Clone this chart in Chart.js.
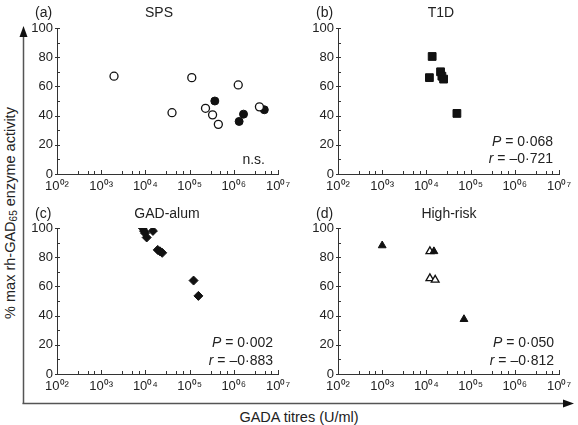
<!DOCTYPE html>
<html>
<head>
<meta charset="utf-8">
<script src="https://cdn.jsdelivr.net/npm/chart.js@4.4.0/dist/chart.umd.min.js"></script>
<style>
  body { margin: 0; background: #fff; width: 578px; height: 425px; position: relative; overflow: hidden;
         font-family: "Liberation Sans", Arial, sans-serif; color: #222; }
  .panel { position: absolute; width: 280px; height: 195px; }
  #ytitle { position: absolute; left: 10px; top: 213px; transform: translate(-50%, -50%) rotate(-90deg);
            white-space: nowrap; font-size: 14.5px; }
  #ytitle sub { font-size: 10px; vertical-align: -2px; }
  #xtitle { position: absolute; left: 299px; top: 417px; transform: translate(-50%, -50%);
            white-space: nowrap; font-size: 14.5px; }
  svg { position: absolute; left: 0; top: 0; }
</style>
</head>
<body>
<svg width="578" height="425">
  <line x1="23.5" y1="404" x2="23.5" y2="34" stroke="#555" stroke-width="1.5"/>
  <polygon points="23.5,26 19.5,37 27.5,37" fill="#111"/>
  <line x1="22.5" y1="403.5" x2="566" y2="403.5" stroke="#555" stroke-width="1.5"/>
  <polygon points="574,403.5 563,399.5 563,407.5" fill="#111"/>
</svg>
<div id="ytitle">% max rh-GAD<sub>65</sub> enzyme activity</div>
<div id="xtitle">GADA titres (U/ml)</div>
<canvas class="panel" id="pa" width="280" height="195" style="left:24px;top:0px"></canvas>
<canvas class="panel" id="pb" width="280" height="195" style="left:305px;top:0px"></canvas>
<canvas class="panel" id="pc" width="280" height="195" style="left:24px;top:200px"></canvas>
<canvas class="panel" id="pd" width="280" height="195" style="left:305px;top:200px"></canvas>
<script>
// axis ticks shared by all four panels
const xTicks = [1e2, 1e3, 1e4, 1e5, 1e6, 1e7];
const xTickLabels = ['10⁰²', '10⁰³', '10⁰⁴', '10⁰⁵', '10⁰⁶', '10⁰⁷'];
const yTicks = [0, 20, 40, 60, 80, 100];
const minorSteps = [3, 5, 7];

// (a) SPS
const spsOpenX = [1950, 40000, 112000, 229000, 331000, 447000, 1260000, 3800000];
const spsOpenY = [67, 42, 66, 45, 40.5, 34, 61, 46];
const spsFilledX = [372000, 1320000, 1660000, 4900000];
const spsFilledY = [50, 36, 41, 44];

// (b) T1D
const t1dX = [13500, 11700, 20900, 22400, 24500, 49000];
const t1dY = [80.5, 66, 70, 67, 65, 41.5];

// (c) GAD-alum
const alumX = [8700, 9300, 9800, 10700, 14800, 19000, 21400, 24000, 123000, 158000];
const alumY = [100, 98, 96.5, 93.5, 98, 85, 84, 83, 64, 53.5];

// (d) High-risk
const riskFilledX = [1000, 14800, 70800];
const riskFilledY = [88, 84, 37.5];
const riskOpenX = [12000, 12000, 15800];
const riskOpenY = [84, 65.5, 64.5];

const FONT = '"Liberation Sans", Arial, sans-serif';

function pts(xs, ys) {
  return xs.map((x, i) => ({ x, y: ys[i] }));
}

// inward tick marks, panel letter, title and stats text
const decorPlugin = {
  id: 'decor',
  afterDraw(chart, args, opts) {
    const { ctx, chartArea: ca, scales: { x, y } } = chart;
    ctx.save();
    ctx.strokeStyle = '#333';
    ctx.lineWidth = 1;
    ctx.beginPath();
    xTicks.forEach((t, i) => {
      const px = Math.round(x.getPixelForValue(t)) + 0.5;
      ctx.moveTo(px, ca.bottom); ctx.lineTo(px, ca.bottom - 4);
      if (i < xTicks.length - 1) {
        minorSteps.forEach(m => {
          const mx = Math.round(x.getPixelForValue(t * m)) + 0.5;
          ctx.moveTo(mx, ca.bottom); ctx.lineTo(mx, ca.bottom - 3);
        });
      }
    });
    for (let v = 0; v <= 100; v += 10) {
      const py = Math.round(y.getPixelForValue(v)) + 0.5;
      ctx.moveTo(ca.left, py); ctx.lineTo(ca.left + 3, py);
      if (v % 20 === 0) { ctx.moveTo(ca.left - 2, py); ctx.lineTo(ca.left, py); }
    }
    ctx.stroke();

    ctx.fillStyle = '#222';
    ctx.textBaseline = 'middle';
    ctx.font = '14px ' + FONT;
    ctx.textAlign = 'left';
    ctx.fillText(opts.label, 11, opts.titleY);
    ctx.textAlign = 'center';
    ctx.fillText(opts.title, opts.titleX, opts.titleY);

    // stats, right aligned, first letter italic
    (opts.notes || []).forEach(n => {
      ctx.font = '14px ' + FONT;
      const restW = ctx.measureText(n.rest).width;
      ctx.font = 'italic 14px ' + FONT;
      const leadW = n.lead ? ctx.measureText(n.lead).width : 0;
      const x0 = opts.noteRight - restW - leadW;
      ctx.textAlign = 'left';
      if (n.lead) ctx.fillText(n.lead, x0, n.y);
      ctx.font = '14px ' + FONT;
      ctx.fillText(n.rest, x0 + leadW, n.y);
    });
    ctx.restore();
  }
};

function makePanel(id, datasets, decor) {
  return new Chart(document.getElementById(id), {
    type: 'scatter',
    data: { datasets },
    options: {
      responsive: false,
      animation: false,
      layout: { padding: { top: 28, right: 26, left: 0, bottom: 0 } },
      plugins: { legend: { display: false }, tooltip: { enabled: false }, decor },
      scales: {
        x: {
          type: 'logarithmic', min: 1e2, max: 1e7,
          afterBuildTicks: s => { s.ticks = xTicks.map(v => ({ value: v })); },
          afterFit: s => { s.height = 21; s.paddingLeft = 0; s.paddingRight = 0; },
          ticks: {
            callback: (v, i) => xTickLabels[i],
            autoSkip: false, maxRotation: 0, padding: 5,
            color: '#222', font: { family: FONT, size: 13 }
          },
          grid: { display: false, drawTicks: false },
          border: { display: true, color: '#333', width: 1 }
        },
        y: {
          min: 0, max: 100,
          afterBuildTicks: s => { s.ticks = yTicks.map(v => ({ value: v })); },
          afterFit: s => { s.width = 33; s.paddingTop = 0; s.paddingBottom = 0; },
          ticks: { padding: 4, color: '#222', font: { family: FONT, size: 13 } },
          grid: { display: false, drawTicks: false },
          border: { display: true, color: '#333', width: 1 }
        }
      }
    },
    plugins: [decorPlugin]
  });
}

const openStyle = { backgroundColor: '#fff', borderColor: '#111', borderWidth: 1.3 };
const fillStyle = { backgroundColor: '#111', borderColor: '#111', borderWidth: 1 };

makePanel('pa', [
  { data: pts(spsOpenX, spsOpenY), pointStyle: 'circle', pointRadius: 4, ...openStyle },
  { data: pts(spsFilledX, spsFilledY), pointStyle: 'circle', pointRadius: 4, ...fillStyle }
], { label: '(a)', title: 'SPS', titleX: 135, titleY: 13, noteRight: 241,
     notes: [{ lead: '', rest: 'n.s.', y: 160 }] });

makePanel('pb', [
  { data: pts(t1dX, t1dY), pointStyle: 'rect', pointRadius: 5.5, ...fillStyle }
], { label: '(b)', title: 'T1D', titleX: 136, titleY: 13, noteRight: 248,
     notes: [{ lead: 'P', rest: ' = 0·068', y: 142 }, { lead: 'r', rest: ' = –0·721', y: 159 }] });

makePanel('pc', [
  { data: pts(alumX, alumY), pointStyle: 'rectRot', pointRadius: 4.5, ...fillStyle }
], { label: '(c)', title: 'GAD-alum', titleX: 143, titleY: 14, noteRight: 249,
     notes: [{ lead: 'P', rest: ' = 0·002', y: 143 }, { lead: 'r', rest: ' = –0·883', y: 161 }] });

makePanel('pd', [
  { data: pts(riskFilledX, riskFilledY), pointStyle: 'triangle', pointRadius: 4.5, ...fillStyle },
  { data: pts(riskOpenX, riskOpenY), pointStyle: 'triangle', pointRadius: 4.5, ...openStyle }
], { label: '(d)', title: 'High-risk', titleX: 144, titleY: 14, noteRight: 249,
     notes: [{ lead: 'P', rest: ' = 0·050', y: 143 }, { lead: 'r', rest: ' = –0·812', y: 161 }] });
</script>
</body>
</html>
